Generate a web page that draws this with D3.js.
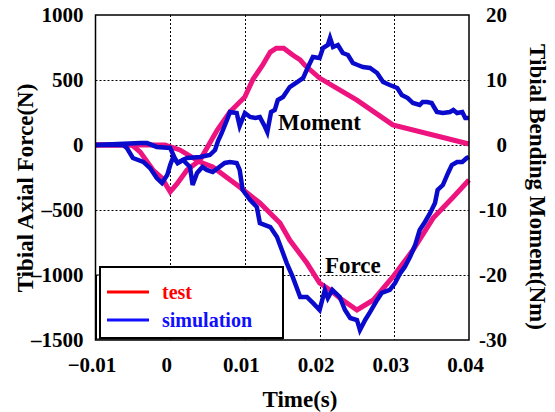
<!DOCTYPE html>
<html>
<head>
<meta charset="utf-8">
<script src="https://cdn.jsdelivr.net/npm/d3@7"></script>
<style>
  body { margin: 0; background: #fff; }
  text { font-family: "Liberation Serif", "Times New Roman", serif; font-weight: bold; }
</style>
</head>
<body>
<svg id="chart" width="555" height="412"></svg>
<script>
// time ticks (s), force ticks (N), moment ticks (Nm)
const timeTicks = [-0.01, 0, 0.01, 0.02, 0.03, 0.04];
const forceTicks = [1000, 500, 0, -500, -1000, -1500];
const momentTicks = [20, 10, 0, -10, -20, -30];

// test: [time s, value]
const testMoment = [
  [-0.01, 0], [-0.0051, 0], [-0.0040, -1.1], [-0.0023, -3.85], [-0.0011, -5.1], [0.0, -7.2],
  [0.0009, -6.0], [0.00225, -3.85], [0.0040, -2.3], [0.0053, 0.3], [0.0063, 2.3], [0.0080, 5.1],
  [0.0100, 7.4], [0.0111, 10.15], [0.0123, 12.15], [0.0134, 14.3], [0.0142, 14.9], [0.0152, 14.9],
  [0.0164, 13.85], [0.0174, 13.1], [0.0180, 12.3], [0.0200, 10.3], [0.0250, 6.9], [0.0298, 3.1],
  [0.04, 0.15]
];
const testForce = [
  [-0.01, 0], [-0.0007, 0], [0.0013, -38], [0.0040, -131], [0.0057, -169], [0.0093, -323],
  [0.0120, -446], [0.0147, -600], [0.0160, -731], [0.0183, -908], [0.0200, -1062], [0.0214, -1115],
  [0.0227, -1177], [0.0250, -1269], [0.0272, -1192], [0.0298, -1015], [0.0325, -808], [0.0352, -562],
  [0.0379, -400], [0.04, -269]
];

// simulation: [time s, value]
const simMoment = [
  [-0.01, 0], [-0.0063, 0], [-0.0058, -0.46], [-0.0050, -2.0], [-0.0036, -2.6], [-0.0027, -3.54],
  [-0.0018, -5.08], [-0.0011, -5.85], [-0.0004, -4.62], [0.0, -3.08], [0.0004, -1.85], [0.0010, -2.77],
  [0.0017, -2.31], [0.00225, -2.0], [0.0040, -1.85], [0.0053, -1.54], [0.0060, -0.77], [0.0064, 0.62],
  [0.0069, 1.85], [0.0076, 3.85], [0.0080, 5.08], [0.0089, 4.92], [0.0093, 2.92], [0.0100, 4.92],
  [0.0107, 4.31], [0.0114, 4.15], [0.0120, 4.31], [0.0127, 2.77], [0.0130, 2.0], [0.0135, 5.08],
  [0.0140, 5.38], [0.0144, 6.92], [0.0151, 7.38], [0.0160, 8.92], [0.0170, 9.69], [0.0178, 10.31],
  [0.01845, 12.0], [0.0191, 13.54], [0.0200, 13.38], [0.02045, 14.92], [0.0211, 15.38], [0.0214, 16.46],
  [0.0218, 15.08], [0.02245, 15.38], [0.0231, 14.15], [0.0238, 13.85], [0.02445, 12.62], [0.0251, 12.31],
  [0.0258, 12.0], [0.02675, 11.85], [0.0277, 11.08], [0.0285, 9.69], [0.0294, 9.23], [0.0304, 8.77],
  [0.0310, 7.69], [0.0318, 7.23], [0.0325, 6.46], [0.0334, 6.15], [0.0338, 6.62], [0.0344, 6.62],
  [0.0350, 6.46], [0.0357, 5.08], [0.0365, 4.92], [0.03745, 5.08], [0.0379, 5.38], [0.0384, 4.92],
  [0.0391, 5.08], [0.0395, 4.15], [0.04, 4.15]
];
const simForce = [
  [-0.01, 0], [-0.0040, 15], [-0.0031, 15], [-0.0018, -15], [0.0, -23], [0.0006, -100],
  [0.0010, -138], [0.0017, -115], [0.00265, -169], [0.0030, -308], [0.0036, -215], [0.0043, -169],
  [0.0049, -192], [0.0057, -208], [0.0064, -177], [0.0073, -138], [0.0080, -131], [0.0089, -138],
  [0.0093, -192], [0.0097, -346], [0.0107, -423], [0.0116, -477], [0.0120, -600], [0.0134, -631],
  [0.0143, -708], [0.0147, -769], [0.0156, -908], [0.0164, -1015], [0.0174, -1169], [0.0183, -1169],
  [0.0191, -1215], [0.0200, -1269], [0.0207, -1115], [0.0211, -1177], [0.0217, -1115], [0.0227, -1169],
  [0.0234, -1269], [0.0241, -1331], [0.0250, -1346], [0.0254, -1423], [0.0261, -1346], [0.02675, -1285],
  [0.0277, -1192], [0.0283, -1138], [0.0294, -1115], [0.0301, -1062], [0.0308, -985], [0.0314, -938],
  [0.0321, -862], [0.0328, -769], [0.0334, -654], [0.0341, -592], [0.0348, -523], [0.03545, -446],
  [0.0358, -346], [0.0365, -308], [0.0372, -215], [0.0377, -154], [0.0384, -131], [0.0391, -131],
  [0.0397, -100], [0.04, -92]
];

const margin = { top: 15, left: 95.5 };
const plotW = 373.5, plotH = 325;
const serif = "'Liberation Serif', 'Times New Roman', serif";

const svg = d3.select("#chart");

const x = d3.scaleLinear().domain([-0.01, 0.04]).range([margin.left, margin.left + plotW]);
const yF = d3.scaleLinear().domain([-1500, 1000]).range([margin.top + plotH, margin.top]);
const yM = d3.scaleLinear().domain([-30, 20]).range([margin.top + plotH, margin.top]);

// grid
const grid = svg.append("g").attr("stroke", "#000").attr("stroke-width", 1).attr("stroke-dasharray", "2,2");
grid.selectAll(".gh").data([500, 0, -500, -1000]).join("line")
  .attr("x1", x(-0.01)).attr("x2", x(0.04))
  .attr("y1", d => Math.round(yF(d)) + 0.5).attr("y2", d => Math.round(yF(d)) + 0.5);
grid.selectAll(".gv").data([0, 0.01, 0.02, 0.03]).join("line")
  .attr("y1", yF(1000)).attr("y2", yF(-1500))
  .attr("x1", d => Math.round(x(d)) + 0.5).attr("x2", d => Math.round(x(d)) + 0.5);

// series
const lineF = d3.line().x(d => x(d[0])).y(d => yF(d[1]));
const lineM = d3.line().x(d => x(d[0])).y(d => yM(d[1]));
const pink = "#ee1480", blue = "#0a0acc";

svg.append("path").datum(testMoment).attr("d", lineM)
  .attr("fill", "none").attr("stroke", pink).attr("stroke-width", 5);
svg.append("path").datum(testForce).attr("d", lineF)
  .attr("fill", "none").attr("stroke", pink).attr("stroke-width", 5);
svg.append("path").datum(simMoment).attr("d", lineM)
  .attr("fill", "none").attr("stroke", blue).attr("stroke-width", 4.5);
svg.append("path").datum(simForce).attr("d", lineF)
  .attr("fill", "none").attr("stroke", blue).attr("stroke-width", 4.5);

// frame
svg.append("rect")
  .attr("x", x(-0.01)).attr("y", yF(1000))
  .attr("width", plotW).attr("height", plotH)
  .attr("fill", "none").attr("stroke", "#000").attr("stroke-width", 1.5);

// axes
const fmtLeft = d => d < 0 ? "\u2013" + Math.abs(d) : String(d);
const axL = svg.append("g").attr("transform", `translate(${x(-0.01)},0)`)
  .call(d3.axisLeft(yF).tickValues(forceTicks).tickSize(0).tickPadding(12).tickFormat(fmtLeft));
const axR = svg.append("g").attr("transform", `translate(${x(0.04)},0)`)
  .call(d3.axisRight(yM).tickValues(momentTicks).tickSize(0).tickPadding(38).tickFormat(d => String(d)));
axR.selectAll("text").attr("text-anchor", "end");
const axB = svg.append("g").attr("transform", `translate(0,${yF(-1500)})`)
  .call(d3.axisBottom(x).tickValues(timeTicks).tickSize(0).tickPadding(17)
    .tickFormat(d => d === 0 ? "0" : d3.format(".2f")(d)));
axB.selectAll("text").attr("dx", "-4");
[axL, axR, axB].forEach(a => {
  a.attr("font-family", null).attr("font-size", null);
  a.select(".domain").remove();
  a.selectAll("text").attr("fill", "#000")
    .style("font-family", serif).style("font-weight", "bold").style("font-size", "21px");
});

// titles
svg.append("text").attr("transform", "translate(25,188) rotate(-90)")
  .attr("text-anchor", "middle").attr("dy", "0.35em").attr("font-size", 23)
  .text("Tibial Axial Force(N)");
svg.append("text").attr("transform", "translate(538,187) rotate(90)")
  .attr("text-anchor", "middle").attr("dy", "0.35em").attr("font-size", 23)
  .text("Tibial Bending Moment(Nm)");
svg.append("text").attr("x", 300).attr("y", 407)
  .attr("text-anchor", "middle").attr("font-size", 23).text("Time(s)");

// curve labels
svg.append("text").attr("x", 278).attr("y", 130).attr("font-size", 23).text("Moment");
svg.append("text").attr("x", 325).attr("y", 273).attr("font-size", 23).text("Force");

// legend
const lg = svg.append("g");
lg.append("rect").attr("x", 96.5).attr("y", 275).attr("width", 186).attr("height", 64)
  .attr("fill", "none").attr("stroke", "#000").attr("stroke-width", 1);
lg.append("rect").attr("x", 100).attr("y", 267).attr("width", 183).attr("height", 71)
  .attr("fill", "#fff").attr("stroke", "#000").attr("stroke-width", 2);
const legendItems = [
  { name: "test", color: "#ff0000", y: 292 },
  { name: "simulation", color: "#1010ff", y: 320 }
];
legendItems.forEach(it => {
  lg.append("line").attr("x1", 107).attr("x2", 149).attr("y1", it.y).attr("y2", it.y)
    .attr("stroke", it.color).attr("stroke-width", 3);
  lg.append("text").attr("x", 162).attr("y", it.y + 7).attr("font-size", 20)
    .attr("fill", it.color).text(it.name);
});
</script>
</body>
</html>
